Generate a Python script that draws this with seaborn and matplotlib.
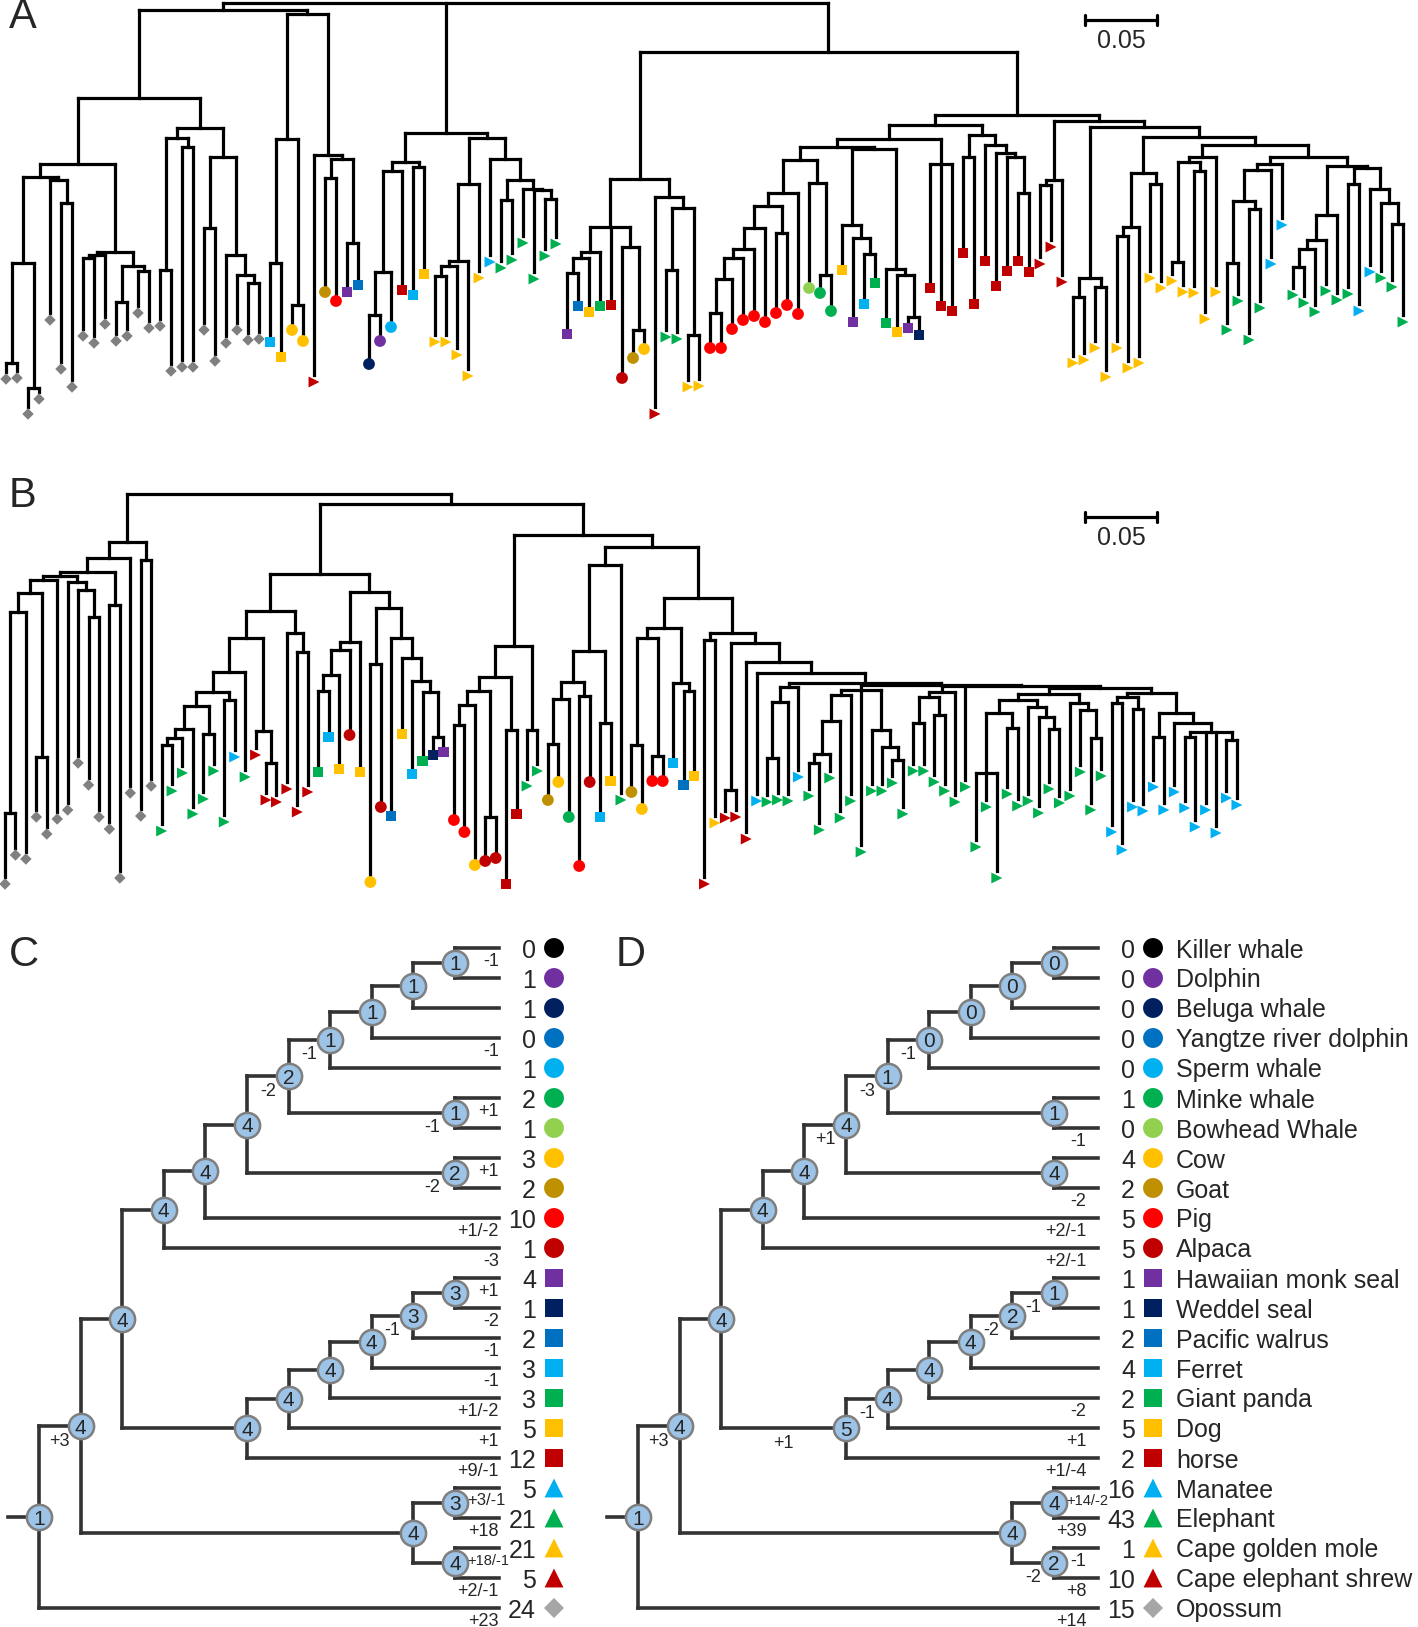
import pandas as pd
import matplotlib
matplotlib.use("Agg")
import matplotlib.pyplot as plt
import seaborn as sns
from matplotlib.collections import LineCollection

# Species in the order of panels C and D
species = ["Killer whale", "Dolphin", "Beluga whale", "Yangtze river dolphin", "Sperm whale",
           "Minke whale", "Bowhead Whale", "Cow", "Goat", "Pig", "Alpaca",
           "Hawaiian monk seal", "Weddel seal", "Pacific walrus", "Ferret", "Giant panda",
           "Dog", "horse", "Manatee", "Elephant", "Cape golden mole", "Cape elephant shrew",
           "Opossum"]
codes = ["kw", "dol", "bel", "yan", "spw", "mnk", "bow", "cow", "gt", "pig", "alp",
         "hms", "wed", "wal", "fer", "pan", "dog", "hor", "man", "ele", "gm", "sh", "op"]
colours = ["#000000", "#7030a0", "#002060", "#0070c0", "#00b0f0", "#00b050", "#92d050",
           "#ffc000", "#bf9000", "#ff0000", "#c00000",
           "#7030a0", "#002060", "#0070c0", "#00b0f0", "#00b050", "#ffc000", "#c00000",
           "#00b0f0", "#00b050", "#ffc000", "#c00000", "#808080"]
shapes = ["circle"] * 11 + ["square"] * 7 + ["triangle"] * 4 + ["diamond"]

# Panels C / D: gene counts per species, ancestral counts (nodes in postorder)
counts_c = [0, 1, 1, 0, 1, 2, 1, 3, 2, 10, 1, 4, 1, 2, 3, 3, 5, 12, 5, 21, 21, 5, 24]
counts_d = [0, 0, 0, 0, 0, 1, 0, 4, 2, 5, 5, 1, 1, 2, 4, 2, 5, 2, 16, 43, 1, 10, 15]
nodes_c = [1, 1, 1, 1, 1, 2, 2, 4, 4, 4, 3, 3, 4, 4, 4, 4, 4, 3, 4, 4, 4, 1]
nodes_d = [0, 0, 0, 0, 1, 1, 4, 4, 4, 4, 1, 2, 4, 4, 4, 5, 4, 4, 2, 4, 4, 1]
leaf_change_c = ["-1", "", "", "-1", "", "+1", "", "+1", "", "+1/-2", "-3", "+1", "-2", "-1",
                 "-1", "+1/-2", "+1", "+9/-1", "+3/-1", "+18", "+18/-1", "+2/-1", "+23"]
node_change_c = ["", "", "", "-1", "-1", "-2", "-2", "", "", "", "", "-1", "", "", "", "",
                 "", "", "", "", "+3", ""]
leaf_change_d = ["", "", "", "", "", "", "-1", "", "-2", "+2/-1", "+2/-1", "", "", "", "",
                 "-2", "+1", "+1/-4", "+14/-2", "+39", "-1", "+8", "+14"]
node_change_d = ["", "", "", "-1", "", "-3", "", "+1", "", "", "-1", "-2", "", "", "-1", "+1",
                 "", "", "-2", "", "+3", ""]

# species tree (numbers after ':' = level of the node)
species_tree = ("(((((((((((kw,dol):10,bel):9,yan):8,spw):7,(mnk,bow):10):6,(cow,gt):10):5,pig):4,"
                "alp):3,((((((hms,wed):10,wal):9,fer):8,pan):7,dog):6,hor):5):2,"
                "((man,ele):10,(gm,sh):10):9):1,op):0")

# Panels A / B gene trees: numbers after ':' are node depths from the root,
# in units where the 0.05 scale bar is 72 units long
SCALE_UNITS = 72

a_opossum_1 = ("((((op:369,op:368):360,(op:404,op:389):385):260,"
               "(op:310,(op:359,op:377):200):177):174,"
               "(((op:326,op:333):255,op:314):252,"
               "((op:331,op:326):299,(op:303,op:318):268):263):249):161")
a_opossum_2 = ("(((op:316,op:361):267,(op:357,op:357):144):135,"
               "((op:320,op:351):225,(op:333,(op:320,(op:330,op:329):280):272):252):154):125")
a_mixed_1 = ("(((fer:332,dog:347):260,(cow:320,cow:331):302):136,"
             "(sh:372,((gt:282,pig:291):175,(hms:282,wal:275):240):156):152):11")
a_mixed_2 = ("(((((bel:354,dol:331):312,spw:317):269,hor:280):168,(fer:285,dog:264):164):159,"
             "(((((gm:332,gm:332):273,gm:345):263,gm:366):258,gm:268):181,"
             "(man:252,((ele:258,ele:250):197,(ele:233,(ele:269,(ele:246,ele:234):196):187)"
             ":186):177):156):135):130")
a_mixed_3 = ("(((((hms:324,wal:296):270,dog:302):255,pan:296):249,hor:295,"
             "(alp:368,(gt:348,cow:339):327):244):224,"
             "(sh:404,((ele:327,ele:329):267,(gm:377,gm:376):332):205):194):176")
a_pig = ("(((((((pig:338,pig:338):310,pig:319):276,pig:310):255,pig:306):246,pig:312):225,"
         "(pig:303,pig:295):230):203,pig:304):190")
a_whale = "(bow:278,(mnk:283,mnk:301):272):180"
a_carnivore = ("((dog:260,(hms:312,(fer:294,pan:273):251):235):222,"
               "(pan:313,(dog:322,(hms:318,wed:325):314):272):266):146")
a_horse_1 = "(hor:278,hor:296,hor:301):161"
a_horse_2 = ("((hor:243,hor:294):154,(hor:251,(hor:276,(hor:261,(hor:251,hor:262):190):154)"
             ":150):142):132")
a_shrew = "((sh:254,sh:237):182,sh:272):177"
a_mole_1 = "((gm:353,gm:350):294,(gm:338,gm:367):284):275"
a_mole_2 = "(((gm:338,gm:358):233,gm:353):224,(gm:268,gm:278):181):170"
a_mole_3 = "(((gm:271,gm:282):259,(gm:283,gm:309):168):159,gm:282):154"
a_afro_1 = "((((ele:320,ele:291):260,(ele:330,ele:298):206):198,man:254):167,man:215):161"
a_afro_2 = ("(((((ele:285,ele:293):264,ele:302):246,ele:281):237,ele:290):212,"
            "((ele:284,man:301):181,(man:262,(ele:268,(ele:277,ele:312):221):200):186):165):163")

b_opossum = ("((((((((op:383,op:354):319,op:358):118,(op:316,op:333):263):99,op:318):86,"
             "(op:309,(op:262,(op:284,op:316):123):96):88):82,(op:328,op:377):111):78,"
             "op:292):64,(op:315,op:285):66):48")
b_afro_1 = ("(((((((ele:330,ele:290):251,ele:272):244,ele:313):235,(ele:298,ele:270):240):212,"
            "(ele:321,man:256):206):198,ele:276):178,(sh:254,(sh:299,sh:301):269):237):144")
b_shrew = "(sh:288,(sh:311,sh:291):158):139"
b_laura_1 = "((((pan:271,fer:236):197,dog:268):181,alp:234):156,dog:271):148"
b_laura_2 = ("((cow:381,alp:306):170,(wal:315,(dog:233,(fer:273,(pan:260,(wed:254,hms:251)"
             ":243):198):187):164):144):114")
b_laura_3 = ("((((pig:319,pig:331):231,cow:364):211,(alp:360,alp:357):323):197,"
             "(hor:383,hor:313):236):183")
b_ele_pair = "(ele:285,ele:270):236"
b_laura_4 = ("((((gt:299,cow:281):250,mnk:316):205,(pig:365,alp:281):202):188,"
             "(fer:316,dog:280):229):157")
b_laura_5 = ("(((gt:291,cow:308):251,(pig:280,pig:280):262):144,"
             "(fer:262,(wal:284,dog:275):197):189):134")
b_afro_g1 = "(((ele:301,ele:299):264,ele:300):208,man:276):193"
b_afro_g2 = ("(((((ele:295,ele:329):269,ele:277):260,ele:317):227,ele:300):201,ele:351,"
             "(ele:290,(ele:290,(ele:282,ele:313):266):253):236):196")
b_afro_g3 = "(((ele:270,ele:270):229,(ele:281,ele:290):221):203,ele:301):198"
b_afro_g4 = ("((((ele:346,ele:306,ele:377):279,(ele:293,ele:305):234):219,"
             "(ele:300,(ele:312,(ele:288,ele:302):235):223):213):206,"
             "(ele:295,(ele:271,(ele:309,ele:275):244):216):209):200")
b_afro_g5 = ("(((man:331,man:349):209,(man:306,man:310):215):203,"
             "((man:286,man:309):243,(man:291,((man:307,man:326):243,man:309,man:332,"
             "(man:297,man:304):246):238):229):219):199")

tree_a = ("(((" + a_opossum_1 + "," + a_opossum_2 + "):95," + a_mixed_1 + "):7,"
          + a_mixed_2 + ",(" + a_mixed_3 + ",((((("
          + a_pig + "," + a_whale + "):157," + a_carnivore + "):144,"
          + a_horse_1 + "):136," + a_horse_2 + "):122,"
          + "(" + a_shrew + ",(" + a_mole_1 + ",(" + a_mole_2 + ",(" + a_mole_3 + ",("
          + a_afro_1 + "," + a_afro_2 + "):154):142):134):124):118):112):49):0")

b_afro_comb = ("(" + b_afro_g1 + ",(" + b_afro_g2 + ",(" + b_afro_g3 + ",ele:286,("
               + b_afro_g4 + "," + b_afro_g5 + "):194):192):191):189")
tree_b = ("(" + b_opossum + ",((("
          + b_afro_1 + "," + b_shrew + "):117,(" + b_laura_1 + "," + b_laura_2 + "):98):80,"
          + "((" + b_laura_3 + "," + b_ele_pair + "):152,"
          + "((" + b_laura_4 + ",ele:299):71,(" + b_laura_5 + ","
          + "((sh:383,gm:322):146,((sh:317,sh:316):296,(sh:338,(man:300,"
          + b_afro_comb + "):179):168):149):139):104):53):41):10):0")


def parse_newick(text):
    s = "".join(text.split())
    pos = 0

    def read_node():
        nonlocal pos
        kids, name = [], ""
        if s[pos] == "(":
            pos += 1
            kids.append(read_node())
            while s[pos] == ",":
                pos += 1
                kids.append(read_node())
            pos += 1
        else:
            start = pos
            while s[pos] not in ":,)":
                pos += 1
            name = s[start:pos]
        depth = None
        if pos < len(s) and s[pos] == ":":
            pos += 1
            start = pos
            while pos < len(s) and s[pos] not in ",)":
                pos += 1
            depth = float(s[start:pos])
        return {"name": name, "kids": kids, "depth": depth}

    return read_node()


def layout(tree):
    leaves, inner = [], []

    def walk(n):
        if not n["kids"]:
            n["pos"] = len(leaves)
            leaves.append(n)
        else:
            for k in n["kids"]:
                walk(k)
            n["pos"] = (n["kids"][0]["pos"] + n["kids"][-1]["pos"]) / 2
            inner.append(n)

    walk(tree)
    return leaves, inner


sns.set_style("white")
plt.rcParams["font.family"] = ["Liberation Sans", "DejaVu Sans"]

W, H = 1418, 1627
fig = plt.figure(figsize=(W / 100, H / 100), dpi=100)
fig.patch.set_facecolor("white")


def panel_axes(box, x0_px, x_step, y0_px, y_step):
    x0, y0, x1, y1 = box
    ax = fig.add_axes([x0 / W, 1 - y1 / H, (x1 - x0) / W, (y1 - y0) / H])
    lims = ((x0 - x0_px) / x_step, (x1 - x0_px) / x_step,
            (y1 - y0_px) / y_step, (y0 - y0_px) / y_step)
    return ax, lims


def finish(ax, lims):
    ax.set_xlim(lims[0], lims[1])
    ax.set_ylim(lims[2], lims[3])
    ax.set_axis_off()


shape_tree = {"circle": "o", "square": "s", "triangle": ">", "diamond": "D"}
size_tree = {"circle": 72, "square": 55, "triangle": 62, "diamond": 34}
tree_palette = dict(zip(codes, colours))
tree_markers = {c: shape_tree[s] for c, s in zip(codes, shapes)}
tree_sizes = {c: size_tree[s] for c, s in zip(codes, shapes)}

shape_key = {"circle": "o", "square": "s", "triangle": "^", "diamond": "D"}
size_key = {"circle": 205, "square": 160, "triangle": 185, "diamond": 105}
key_palette = dict(zip(codes, colours[:-1] + ["#a6a6a6"]))
key_markers = {c: shape_key[s] for c, s in zip(codes, shapes)}
key_sizes = {c: size_key[s] for c, s in zip(codes, shapes)}


def draw_gene_tree(ax, newick, px_per_leaf, bar_x, bar_y):
    leaves, inner = layout(parse_newick(newick))
    segs = []
    for n in inner:
        segs.append([(n["kids"][0]["pos"], n["depth"]), (n["kids"][-1]["pos"], n["depth"])])
        for k in n["kids"]:
            segs.append([(k["pos"], n["depth"]), (k["pos"], k["depth"])])
    ax.add_collection(LineCollection(segs, colors="black", linewidths=2.3,
                                     capstyle="projecting", zorder=2))
    tips = pd.DataFrame({"x": [l["pos"] for l in leaves],
                         "y": [l["depth"] + 7 for l in leaves],
                         "sp": [l["name"] for l in leaves]})
    sns.scatterplot(data=tips, x="x", y="y", hue="sp", style="sp", size="sp",
                    palette=tree_palette, markers=tree_markers, sizes=tree_sizes,
                    linewidth=0, legend=False, ax=ax, zorder=3)
    # scale bar
    bar_len = SCALE_UNITS / px_per_leaf
    ax.plot([bar_x, bar_x + bar_len], [bar_y, bar_y], color="black", lw=2.3)
    for xe in (bar_x, bar_x + bar_len):
        ax.plot([xe, xe], [bar_y - 5, bar_y + 5], color="black", lw=2.3)
    ax.text(bar_x + bar_len / 2, bar_y + 21, "0.05", ha="center", va="center", fontsize=18)


LEAF_LEVEL = 11.05


def draw_species_tree(ax, node_vals, counts, leaf_changes, node_changes, label_end, names):
    tree = parse_newick(species_tree)
    leaves, inner = layout(tree)
    for l in leaves:
        l["depth"] = LEAF_LEVEL
    parent = {}
    segs = [[(-0.75, tree["pos"]), (0, tree["pos"])]]
    for n in inner:
        segs.append([(n["depth"], n["kids"][0]["pos"]), (n["depth"], n["kids"][-1]["pos"])])
        for k in n["kids"]:
            segs.append([(n["depth"], k["pos"]), (k["depth"], k["pos"])])
            parent[id(k)] = n
    ax.add_collection(LineCollection(segs, colors="#333333", linewidths=2.6,
                                     capstyle="projecting", zorder=2))

    nd = pd.DataFrame({"x": [n["depth"] for n in inner], "y": [n["pos"] for n in inner]})
    sns.scatterplot(data=nd, x="x", y="y", s=330, color="#9dc3e6", edgecolor="#7f7f7f",
                    linewidth=1.8, legend=False, ax=ax, zorder=3)
    for n, v in zip(inner, node_vals):
        ax.text(n["depth"], n["pos"], str(v), ha="center", va="center_baseline",
                fontsize=15, zorder=4)

    for l, lab in zip(leaves, leaf_changes):
        if not lab:
            continue
        par = parent[id(l)]
        if len(lab) >= 5 and par["kids"][0] is l and par["depth"] >= 10:
            # upper leaf of a cherry: label sits just right of the node circle
            ax.text(par["depth"] + 0.29, l["pos"] + 0.42, lab, ha="left", va="center",
                    fontsize=12 if len(lab) == 5 else 10.5, zorder=4)
        else:
            ax.text(LEAF_LEVEL + label_end, l["pos"] + 0.45, lab, ha="right", va="center",
                    fontsize=13, zorder=4)
    for n, lab in zip(inner, node_changes):
        if lab:
            p, c = parent[id(n)]["depth"], n["depth"]
            cx = (p + c) / 2 if c - p <= 3 else c - 0.55
            ax.text(cx, n["pos"] + 0.5, lab, ha="center", va="center", fontsize=13, zorder=4)

    for l, cnt in zip(leaves, counts):
        ax.text(11.95, l["pos"], str(cnt), ha="right", va="center_baseline", fontsize=18)
    key = pd.DataFrame({"x": [12.38] * len(leaves), "y": [l["pos"] for l in leaves],
                        "sp": [l["name"] for l in leaves]})
    sns.scatterplot(data=key, x="x", y="y", hue="sp", style="sp", size="sp",
                    palette=key_palette, markers=key_markers, sizes=key_sizes,
                    linewidth=0, legend=False, ax=ax, zorder=3)
    if names:
        for l, name in zip(leaves, species):
            ax.text(12.93, l["pos"], name, ha="left", va="center_baseline", fontsize=18)


# Panel A
ax_a, lim_a = panel_axes((0, 0, W, 460), 6, 11, 3, 1)
draw_gene_tree(ax_a, tree_a, 11, (1085 - 6) / 11, 17)
finish(ax_a, lim_a)

# Panel B
ax_b, lim_b = panel_axes((0, 460, W, 910), 5, 10.44, 494, 1)
draw_gene_tree(ax_b, tree_b, 10.44, (1085 - 5) / 10.44, 23)
finish(ax_b, lim_b)

# Panel C
ax_c, lim_c = panel_axes((0, 900, 600, H), 39, 41.6, 948, 30)
draw_species_tree(ax_c, nodes_c, counts_c, leaf_change_c, node_change_c, 0.0, False)
finish(ax_c, lim_c)

# Panel D
ax_d, lim_d = panel_axes((600, 900, W, H), 638, 41.6, 948, 30)
draw_species_tree(ax_d, nodes_d, counts_d, leaf_change_d, node_change_d, -0.27, True)
finish(ax_d, lim_d)

for letter, (x, y) in zip("ABCD", [(23, 17), (23, 496), (24, 955), (631, 955)]):
    fig.text(x / W, 1 - y / H, letter, ha="center", va="center", fontsize=30)

fig.savefig("out.png", dpi=100, facecolor="white")
